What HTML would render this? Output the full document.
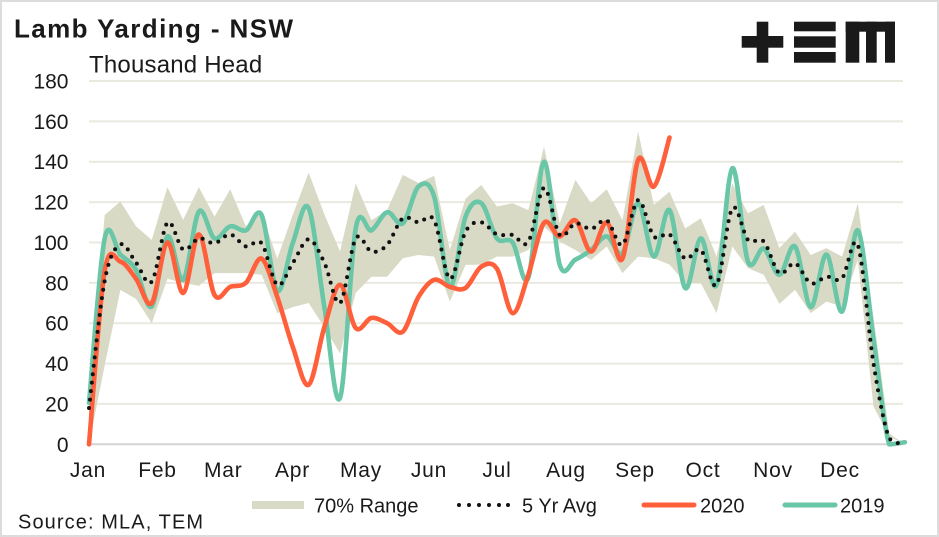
<!DOCTYPE html>
<html>
<head>
<meta charset="utf-8">
<style>
  html,body{margin:0;padding:0;background:#fff;}
  #wrap{position:relative;width:939px;height:537px;overflow:hidden;background:#fff;}
  svg{position:absolute;left:0;top:0;}
  text{font-family:"Liberation Sans",Arial,sans-serif;fill:#1a1a1a;}
</style>
</head>
<body>
<div id="wrap">
<svg id="chart" width="939" height="537" viewBox="0 0 939 537" xmlns="http://www.w3.org/2000/svg">
  <rect x="1" y="1" width="937" height="535" fill="#fff" stroke="#dcdcdc" stroke-width="2"/>
  <!-- title -->
  <text x="14" y="37.5" font-size="26" font-weight="bold" letter-spacing="1.4">Lamb Yarding - NSW</text>
  <text x="89" y="72.3" font-size="24" letter-spacing="0.2">Thousand Head</text>
  <!-- logo -->
  <g fill="#1a1a1a">
    <rect x="741.7" y="36" width="41.6" height="11.7"/>
    <rect x="756.7" y="21.7" width="11.6" height="41"/>
    <rect x="794" y="21.7" width="41.7" height="9.6"/>
    <rect x="794" y="36.3" width="41.7" height="11.4"/>
    <rect x="794" y="52" width="41.7" height="10.7"/>
    <rect x="845.7" y="21.7" width="49.3" height="10"/>
    <rect x="845.7" y="21.7" width="13.6" height="41"/>
    <rect x="866" y="21.7" width="10.7" height="41"/>
    <rect x="885" y="21.7" width="10" height="41"/>
  </g>
  <g id="grid"></g>
  <g id="ylabels"></g>
  <path id="band" fill="#d9dac6" stroke="none"/>
  <line x1="89" y1="444.3" x2="903" y2="444.3" stroke="#d4d4d4" stroke-width="2"/>
  <path id="l2019" fill="none" stroke="#69c6a6" stroke-width="4.6" stroke-linecap="round" stroke-linejoin="round"/>
  <path id="l2020" fill="none" stroke="#ff5f3a" stroke-width="4.6" stroke-linecap="round" stroke-linejoin="round"/>
  <path id="lavg" fill="none" stroke="#111" stroke-width="4" stroke-linecap="round" stroke-dasharray="0 8.5"/>
  <!-- month labels -->
  <g font-size="21" text-anchor="middle" letter-spacing="0.8">
    <text x="88" y="477">Jan</text>
    <text x="157.5" y="477">Feb</text>
    <text x="223.3" y="477">Mar</text>
    <text x="292.5" y="477">Apr</text>
    <text x="361" y="477">May</text>
    <text x="429" y="477">Jun</text>
    <text x="497" y="477">Jul</text>
    <text x="566" y="477">Aug</text>
    <text x="635" y="477">Sep</text>
    <text x="703" y="477">Oct</text>
    <text x="773" y="477">Nov</text>
    <text x="840" y="477">Dec</text>
  </g>
  <!-- legend -->
  <rect x="252" y="501" width="52" height="8" fill="#d9dac6"/>
  <text x="314" y="512.7" font-size="20">70% Range</text>
  <g fill="#111">
    <circle cx="459" cy="505" r="2"/>
    <circle cx="469" cy="505" r="2"/>
    <circle cx="479" cy="505" r="2"/>
    <circle cx="489" cy="505" r="2"/>
    <circle cx="499" cy="505" r="2"/>
    <circle cx="508" cy="505" r="2"/>
  </g>
  <text x="522" y="512.7" font-size="20">5 Yr Avg</text>
  <line x1="644" y1="505" x2="694" y2="505" stroke="#ff5f3a" stroke-width="5" stroke-linecap="round"/>
  <text x="700" y="512.7" font-size="20">2020</text>
  <line x1="785" y1="505" x2="835" y2="505" stroke="#69c6a6" stroke-width="5" stroke-linecap="round"/>
  <text x="840" y="512.7" font-size="20">2019</text>
  <text x="18" y="528.3" font-size="20" letter-spacing="1.1">Source: MLA, TEM</text>
</svg>
</div>
<script>
(function(){
  var NS="http://www.w3.org/2000/svg";
  function X(i){return 89+i*15.69;}
  function Y(v){return 444.3-v*2.0183;}
  var YMAX=Y(0);
  var grid=document.getElementById('grid');
  var yl=document.getElementById('ylabels');
  for(var v=0;v<=180;v+=20){
    if(v>0){
      var l=document.createElementNS(NS,'line');
      l.setAttribute('x1',89);l.setAttribute('x2',903);
      l.setAttribute('y1',Y(v));l.setAttribute('y2',Y(v));
      l.setAttribute('stroke','#e9e9e0');l.setAttribute('stroke-width','2');
      grid.appendChild(l);
    }
    var t=document.createElementNS(NS,'text');
    t.setAttribute('x',68.5);t.setAttribute('y',Y(v)+7.5);
    t.setAttribute('font-size','21');t.setAttribute('text-anchor','end');
    t.textContent=String(v);
    yl.appendChild(t);
  }
  var teal=[20.5,102,94,86.4,68.3,103,81.5,115.3,102,108,106,113.6,76,100,117,68,23,107,106,115,109.5,127.7,122.7,78,112.8,119.5,102,100,82.5,140,89,91.5,96.3,103,94.7,119.4,93,116,77.4,102,79,136.8,90.5,97,84,98,68,94,65.8,106,52,0,1];
  var orange=[0,86,90.5,82,70,100,75,104,74,78,80,92,73,48,29.5,58,79,57.6,62.6,60,55.8,73,81.5,78,77.5,88,87,65,84,109.7,103,111,95.5,110,92,141,127.7,152];
  var avg=[18,81,99,90,80.6,109.8,96.5,102,99.6,104,98,99.6,79,90,101.6,90,70,102,95.5,98.8,112,110,111,82,105.4,110,104,103.7,100.3,127,103.7,109.5,106.7,111,98.8,121,103,104,92,96.3,79,117,101.3,100.5,84.8,89.7,79.8,83,82.3,98.8,40,3,0];
  var up=[25,113.6,120.3,108,101.3,127.4,111.2,127.4,112.8,126.4,108,114.6,92,114,134.6,114,95.5,129.3,111,116,133.5,129.5,133,96.3,121.7,128.5,117.8,119.4,116,147.5,109.6,131,119.4,126.4,111,155,118.6,125.2,107,112,93,129.3,114.5,118.6,97.2,105.4,93.8,97.2,93,119.4,63,5.4,0];
  var lo=[0,39,76.5,72,60,82,80,78.5,84.8,84.8,84.8,84,65,68,70,58,45,75,83,83,92.2,93.8,93,70.7,88.9,89,93,93,96.3,108,100.5,96.3,91.4,98,84.8,93,92.2,89,80,79.8,65,98,87.3,84,69.6,76.5,65,70.7,68.2,91.4,18.7,3.8,0];
  function smooth(d){
    var p=d.map(function(v,i){return [X(i),Y(v)];});
    var s='M'+p[0][0].toFixed(2)+','+p[0][1].toFixed(2);
    for(var i=0;i<p.length-1;i++){
      var p0=p[i-1]||p[i],p1=p[i],p2=p[i+1],p3=p[i+2]||p[i+1];
      var c1x=p1[0]+(p2[0]-p0[0])/6,c1y=p1[1]+(p2[1]-p0[1])/6;
      var c2x=p2[0]-(p3[0]-p1[0])/6,c2y=p2[1]-(p3[1]-p1[1])/6;
      if(c1y>YMAX)c1y=YMAX; if(c2y>YMAX)c2y=YMAX;
      s+=' C'+c1x.toFixed(2)+','+c1y.toFixed(2)+' '+c2x.toFixed(2)+','+c2y.toFixed(2)+' '+p2[0].toFixed(2)+','+p2[1].toFixed(2);
    }
    return s;
  }
  var b='M'+X(0)+','+Y(up[0]);
  for(var i=1;i<up.length;i++){b+=' L'+X(i).toFixed(2)+','+Y(up[i]).toFixed(2);}
  for(var j=lo.length-1;j>=0;j--){b+=' L'+X(j).toFixed(2)+','+Y(lo[j]).toFixed(2);}
  b+=' Z';
  document.getElementById('band').setAttribute('d',b);
  document.getElementById('l2019').setAttribute('d',smooth(teal));
  document.getElementById('l2020').setAttribute('d',smooth(orange));
  document.getElementById('lavg').setAttribute('d',smooth(avg));
})();
</script>
</body>
</html>
